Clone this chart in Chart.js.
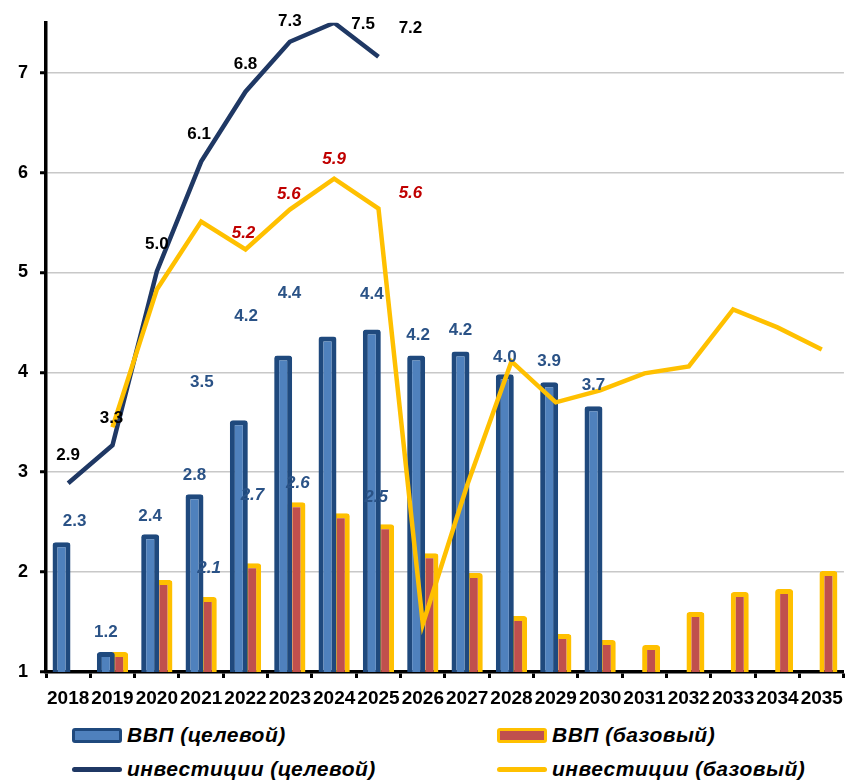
<!DOCTYPE html>
<html>
<head>
<meta charset="utf-8">
<script src="https://cdn.jsdelivr.net/npm/chart.js@4.4.1/dist/chart.umd.min.js"></script>
<style>
  body { margin: 0; background: #fff; font-family: "Liberation Sans", Arial, sans-serif; }
  #wrap { position: relative; width: 852px; height: 782px; }
  #box { position: absolute; left: 0; top: 0; width: 852px; height: 710px; }
  #legend {
    position: absolute; left: 72px; top: 718px;
    display: grid; grid-template-columns: 425px auto; grid-auto-rows: 34px;
  }
  .item { display: flex; align-items: center; font: italic bold 21px "Liberation Sans", Arial, sans-serif; letter-spacing: 0.5px; color: #000; }
  .sw { width: 50px; margin-right: 5px; box-sizing: border-box; }
</style>
</head>
<body>
<div id="wrap">
  <div id="box"><canvas id="chart"></canvas></div>
  <div id="legend"></div>
</div>
<script>
const years = ["2018", "2019", "2020", "2021", "2022", "2023", "2024", "2025", "2026",
  "2027", "2028", "2029", "2030", "2031", "2032", "2033", "2034", "2035"];

const gdpTarget = [2.3, 1.2, 2.38, 2.78, 3.52, 4.17, 4.36, 4.43, 4.17, 4.21, 3.98, 3.9, 3.66,
  null, null, null, null, null];
const gdpBase = [null, 1.2, 1.92, 1.75, 2.09, 2.7, 2.59, 2.48, 2.19, 1.99, 1.56, 1.38, 1.32,
  1.27, 1.6, 1.8, 1.83, 2.01];
const invTarget = [2.89, 3.27, 5.01, 6.11, 6.81, 7.31, 7.5, 7.16,
  null, null, null, null, null, null, null, null, null, null];
const invBase = [null, 3.45, 4.83, 5.51, 5.23, 5.63, 5.94, 5.64, 1.48, 2.87, 4.11, 3.7, 3.82,
  3.99, 4.06, 4.63, 4.45, 4.23];

const yTicks = [1, 2, 3, 4, 5, 6, 7];

// label offsets (px) from the point / bar top, null = no label
const gdpTargetShift = [[13, -21], [0, -20], [0, -18], [0, -19], [-37, -38], [-37, -39],
  [-38, -43], [0, -35], [2, -20], [0, -21], [0, -17], [0, -21], [0, -21]];
const gdpBaseShift = [null, null, null, null, [-43, 5], [-44, -7], [-43, -30], [-9, -27]];
const invTargetShift = [[0, -28], [-1, -27], [0, -27], [-2, -27], [0, -27], [0, -20],
  [29, 2], [32, -28]];
const invBaseShift = [null, null, null, null, [-2, -16], [-1, -15], [0, -19], [32, -15]];

const valueLabels = {
  id: "valueLabels",
  afterDatasetsDraw(chart) {
    const ctx = chart.ctx;
    chart.data.datasets.forEach((ds, i) => {
      const lab = ds.valueLabel;
      if (!lab) return;
      const meta = chart.getDatasetMeta(i);
      ctx.save();
      ctx.font = lab.font;
      ctx.fillStyle = lab.color;
      ctx.textAlign = "center";
      ctx.textBaseline = "middle";
      meta.data.forEach((el, j) => {
        const s = lab.shift[j];
        if (!s || ds.data[j] == null) return;
        ctx.fillText(ds.data[j].toFixed(1), el.x + s[0], el.y + s[1]);
      });
      ctx.restore();
    });
  },
};

const chart = new Chart(document.getElementById("chart"), {
  type: "bar",
  data: {
    labels: years,
    datasets: [
      {
        label: "ВВП (целевой)",
        data: gdpTarget,
        backgroundColor: "#4F81BD",
        borderColor: "#1F497D",
        borderWidth: 5,
        borderRadius: 3,
        borderSkipped: false,
        categoryPercentage: 0.6,
        barPercentage: 1.35,
        order: 2,
        valueLabel: { font: "bold 17px 'Liberation Sans', Arial", color: "#2A5286", shift: gdpTargetShift },
      },
      {
        label: "ВВП (базовый)",
        data: gdpBase,
        backgroundColor: "#C0504D",
        borderColor: "#FFC000",
        borderWidth: 5,
        borderRadius: 3,
        borderSkipped: false,
        categoryPercentage: 0.6,
        barPercentage: 1.35,
        order: 2,
        valueLabel: { font: "italic bold 17px 'Liberation Sans', Arial", color: "#2A5286", shift: gdpBaseShift },
      },
      {
        type: "line",
        label: "инвестиции (целевой)",
        data: invTarget,
        borderColor: "#1F3864",
        borderWidth: 4.5,
        pointRadius: 0,
        tension: 0,
        order: 1,
        valueLabel: { font: "bold 17px 'Liberation Sans', Arial", color: "#000", shift: invTargetShift },
      },
      {
        type: "line",
        label: "инвестиции (базовый)",
        data: invBase,
        borderColor: "#FFC000",
        borderWidth: 4.5,
        pointRadius: 0,
        tension: 0,
        order: 0,
        valueLabel: { font: "italic bold 17px 'Liberation Sans', Arial", color: "#C00000", shift: invBaseShift },
      },
    ],
  },
  options: {
    responsive: true,
    maintainAspectRatio: false,
    animation: false,
    layout: { padding: { top: 20, right: 3, left: 0, bottom: 0 } },
    plugins: {
      legend: { display: false },
      tooltip: { enabled: false },
    },
    scales: {
      x: {
        afterFit: (scale) => { scale.height = 38; },
        border: { display: true, color: "#000", width: 3.5 },
        grid: { drawOnChartArea: false, offset: true, tickLength: 6, tickColor: "#000", tickWidth: 3 },
        ticks: {
          autoSkip: false,
          maxRotation: 0,
          padding: 9,
          color: "#000",
          font: { family: "'Liberation Sans', Arial", size: 19, weight: "bold" },
        },
      },
      y: {
        min: 1,
        max: 7.5,
        afterFit: (scale) => { scale.width = 46; },
        afterBuildTicks: (scale) => { scale.ticks = yTicks.map((v) => ({ value: v })); },
        border: { display: true, color: "#000", width: 3.5 },
        grid: {
          color: (c) => (c.tick && c.tick.value === 1 ? "rgba(0,0,0,0)" : "#C8C8C8"),
          lineWidth: 1.5,
          tickLength: 6,
          tickColor: "#000",
          tickWidth: 3,
        },
        ticks: {
          padding: 12,
          color: "#000",
          font: { family: "'Liberation Sans', Arial", size: 18, weight: "bold" },
        },
      },
    },
  },
  plugins: [valueLabels],
});

// legend, two columns
const $legend = document.getElementById("legend");
const legendOrder = [0, 1, 2, 3];
legendOrder.forEach((i) => {
  const ds = chart.data.datasets[i];
  const $item = document.createElement("div");
  $item.className = "item";
  const $sw = document.createElement("span");
  $sw.className = "sw";
  if (ds.type === "line") {
    $sw.style.height = "5px";
    $sw.style.borderRadius = "3px";
    $sw.style.background = ds.borderColor;
  } else {
    $sw.style.height = "15px";
    $sw.style.borderRadius = "3px";
    $sw.style.background = ds.backgroundColor;
    $sw.style.border = "3px solid " + ds.borderColor;
  }
  $item.appendChild($sw);
  $item.appendChild(document.createTextNode(ds.label));
  $legend.appendChild($item);
});
</script>
</body>
</html>
